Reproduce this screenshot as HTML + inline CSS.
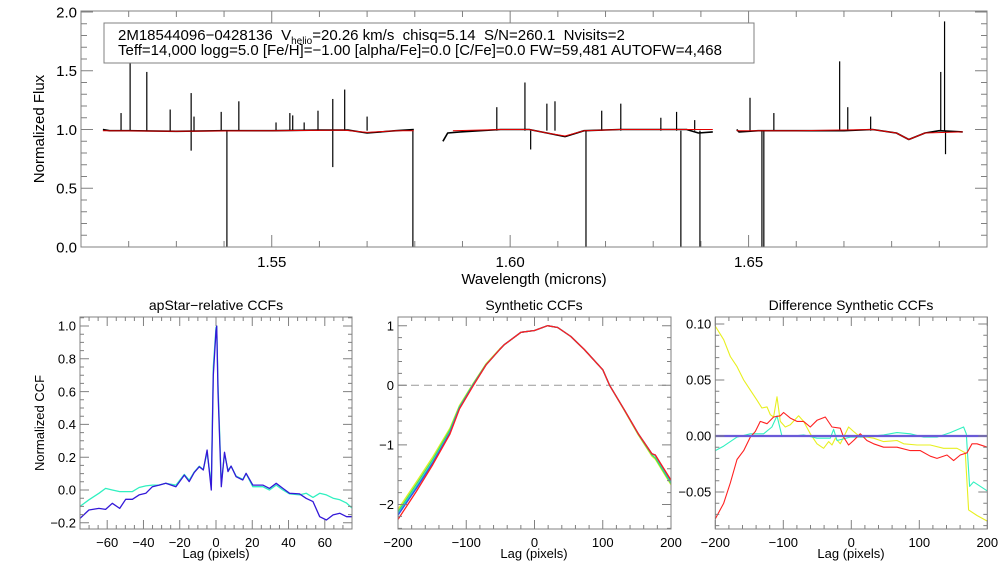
<!DOCTYPE html>
<html><head><meta charset="utf-8"><style>
html,body{margin:0;padding:0;background:#fff}
svg{display:block;font-family:"Liberation Sans",sans-serif}
</style></head><body>
<svg id="fig" width="1008" height="576" viewBox="0 0 1008 576" xmlns="http://www.w3.org/2000/svg">
<rect width="1008" height="576" fill="#fff"/>
</svg>
<script>
// ---- top spectrum data ----
const obsWave = [1.5146,1.5160,1.5200,1.5300,1.5400,1.5500,1.5600,1.5660,1.5700,1.5760,1.5798,null,1.5859,1.5869,1.5895,1.5980,1.6040,1.6077,1.6115,1.6155,1.6230,1.6370,1.6395,1.6425,null,1.6475,1.6480,1.6520,1.6600,1.6700,1.6760,1.6810,1.6836,1.6870,1.6900,1.6949];
const obsFlux = [1.00,0.99,0.99,0.985,0.99,0.99,0.995,0.995,0.97,0.99,1.00,null,0.90,0.97,0.98,1.00,1.00,0.97,0.94,0.99,1.00,1.00,0.97,0.98,null,1.00,0.98,0.99,0.99,0.99,1.00,0.97,0.915,0.97,0.99,0.98];
const modWave = [1.5146,1.5300,1.5500,1.5650,1.5700,1.5760,1.5798,null,1.5880,1.5980,1.6040,1.6077,1.6115,1.6155,1.6230,1.6425,null,1.6475,1.6600,1.6760,1.6810,1.6836,1.6870,1.6949];
const modFlux = [0.99,0.985,0.99,0.995,0.975,0.99,0.99,null,0.99,1.00,1.00,0.97,0.945,0.99,1.00,1.00,null,0.99,0.99,1.00,0.97,0.915,0.97,0.98];
const spikeWave = [1.5184,1.5203,1.5238,1.5287,1.5331,1.5331,1.5337,1.5394,1.5406,1.5431,1.5509,1.5538,1.5544,1.5568,1.5597,1.5628,1.5628,1.5653,1.5700,1.5796,1.5972,1.6031,1.6043,1.6077,1.6094,1.6159,1.6192,1.6232,1.6316,1.6349,1.6358,1.6387,1.6398,1.6503,1.6528,1.6532,1.6553,1.6691,1.6708,1.6756,1.6903,1.6911,1.6913];
const spikeFlux = [1.14,1.75,1.49,1.17,1.31,0.82,1.11,1.15,-0.05,1.24,1.06,1.14,1.12,1.06,1.16,1.26,0.68,1.34,1.11,-0.05,1.19,1.40,0.83,1.22,1.24,-0.05,1.16,1.22,1.10,1.15,-0.05,1.08,-0.05,1.27,-0.05,-0.05,1.14,1.58,1.19,1.11,1.49,1.92,0.79];
const topXTicks = ["1.55","1.60","1.65"];
const topYTicks = ["0.0","0.5","1.0","1.5","2.0"];
// ---- apStar-relative CCF ----
const lagA = [-75,-70.1,-64.6,-60.9,-57.2,-53.1,-49.8,-46.1,-42.4,-38.7,-35.1,-31.4,-27.7,-22.1,-17.5,-14.8,-12,-9.2,-7,-4.9,-2.6,-1.5,0,0.4,1.1,2.9,4.7,6.6,8.3,11.1,14.8,16.6,20.3,25.8,29.5,33.2,36.9,40.6,46.1,49.8,53.5,57.2,60.9,64.6,68.3,72,75];
const blueA = [-0.173,-0.122,-0.112,-0.118,-0.081,-0.112,-0.057,-0.057,-0.03,-0.02,0.02,0.03,0.041,0.02,0.091,0.051,0.106,0.142,0.122,0.244,0.0,0.7,0.97,1.0,0.6,0.02,0.23,0.112,0.146,0.081,0.061,0.102,0.03,0.03,0.01,0.041,0.01,-0.02,-0.024,-0.051,-0.071,-0.163,-0.183,-0.152,-0.142,-0.163,-0.163];
const cyanA = [-0.10,-0.06,-0.02,0.01,0.0,-0.01,-0.01,-0.01,0.015,0.025,0.03,0.03,0.041,0.03,0.095,0.06,0.11,0.145,0.125,0.23,0.03,0.75,0.99,1.0,0.65,0.04,0.22,0.12,0.145,0.085,0.065,0.10,0.02,0.02,0.0,0.03,0.0,-0.024,-0.03,-0.02,-0.045,-0.02,-0.03,-0.05,-0.06,-0.08,-0.11];
const xTicksA = ["-60","-40","-20","0","20","40","60"];
const yTicksA = ["-0.2","0.0","0.2","0.4","0.6","0.8","1.0"];
// ---- synthetic CCF ----
const lagS = [-200,-173,-149,-124,-110,-90,-71,-51,-44.6,-20,0,19,34,53,73,100,110,132,152,172,177,200];
const yellowS = [-2.08,-1.62,-1.20,-0.72,-0.34,0.03,0.36,0.61,0.68,0.89,0.92,1.0,0.97,0.82,0.6,0.26,0.0,-0.43,-0.83,-1.19,-1.24,-1.67];
const greenS = [-2.12,-1.66,-1.24,-0.75,-0.36,0.02,0.35,0.60,0.68,0.89,0.92,1.0,0.97,0.82,0.6,0.26,0.0,-0.42,-0.82,-1.17,-1.22,-1.65];
const cyanS = [-2.15,-1.70,-1.28,-0.79,-0.38,0.0,0.34,0.60,0.68,0.89,0.92,1.0,0.97,0.82,0.6,0.26,0.0,-0.42,-0.81,-1.15,-1.18,-1.62];
const blueS = [-2.18,-1.73,-1.30,-0.80,-0.39,0.0,0.34,0.60,0.68,0.89,0.92,1.0,0.97,0.82,0.6,0.26,0.0,-0.42,-0.81,-1.15,-1.17,-1.60];
const redS = [-2.25,-1.78,-1.33,-0.82,-0.40,-0.01,0.34,0.60,0.68,0.89,0.92,1.0,0.97,0.82,0.6,0.26,0.0,-0.42,-0.81,-1.15,-1.17,-1.59];
const xTicksS = ["-200","-100","0","100","200"];
const yTicksS = ["-2","-1","0","1"];
// ---- difference CCF ----
const lagYD = [-200,-187.7,-177.9,-168.1,-158.3,-148.5,-138.7,-131.4,-124,-119.1,-114.2,-109.3,-104.4,-97.1,-89.7,-77.5,-70.1,-60.3,-50.5,-40.7,-33.3,-28.4,-23.5,-16.2,-3.9,3.4,13.2,23,32.8,47.5,67.2,77,96.6,116.2,135.8,155.4,167.6,172.5,184.8,200];
const yellowD = [0.098,0.086,0.071,0.062,0.05,0.041,0.032,0.025,0.026,0.019,0.017,0.035,0.013,0.008,0.01,0.018,0.013,0.002,-0.007,-0.011,-0.005,-0.008,-0.002,-0.007,0.008,0.004,-0.001,-0.001,-0.002,-0.005,-0.004,-0.007,-0.008,-0.008,-0.011,-0.011,-0.015,-0.066,-0.071,-0.076];
const lagRD = [-200,-187.7,-177.9,-168.1,-158.3,-148.5,-141.2,-133.8,-124,-114.2,-104.4,-99.5,-89.7,-79.9,-70.1,-60.3,-50.5,-38.2,-28.4,-16.2,-11.3,-3.9,3.4,13.2,23,32.8,47.5,67.2,86.8,101.5,116.2,126,140.7,150.5,160.3,170.1,177.5,184.8,200];
const redD = [-0.074,-0.06,-0.042,-0.021,-0.013,-0.001,0.004,0.013,0.011,0.017,0.018,0.021,0.016,0.013,0.013,0.008,0.014,0.017,0.008,0.007,-0.001,-0.008,-0.004,0.002,-0.004,-0.007,-0.01,-0.01,-0.013,-0.013,-0.018,-0.02,-0.017,-0.022,-0.017,-0.015,-0.007,-0.007,-0.01];
const lagCD = [-200,-187.7,-168.1,-148.5,-128.9,-116.7,-109.3,-102,-84.8,-70.1,-50.5,-30.9,-26,-21.1,-1.5,18.1,47.5,67.2,86.8,106.4,126,145.6,165.2,169.1,174,179.9,200];
const cyanD = [-0.013,-0.009,-0.001,0.002,0.002,0.008,0.018,0,0,0.001,-0.002,-0.002,0.006,-0.004,-0.001,-0.001,0.001,0.003,0.002,-0.001,-0.001,0.003,0.008,0.002,-0.045,-0.041,-0.049];
const lagBD = [-200,200];
const blueD = [0,0];
const xTicksD = ["-200","-100","0","100","200"];
const yTicksD = ["-0.05","0.00","0.05","0.10"];

const NS="http://www.w3.org/2000/svg";
const svg=document.getElementById('fig');
function mk(tag,attrs,parent){const e=document.createElementNS(NS,tag);for(const k in attrs)e.setAttribute(k,attrs[k]);(parent||svg).appendChild(e);return e;}
function lin(d0,d1,r0,r1){return v=>r0+(v-d0)*(r1-r0)/(d1-d0);}
function txt(s,x,y,size,anchor,parent,name){const t=mk('text',{x:x,y:y,'font-size':size,'text-anchor':anchor||'middle',fill:'#000'},parent);t.textContent=s;


return t;}
function frame(g,x0,y0,x1,y1,X,Y,xmaj,xmin,ymaj,ymin,xd,yd,xlab,ylab,fs,majL,minL,name){
  const r=mk('rect',{x:x0,y:y0,width:x1-x0,height:y1-y0,fill:'none',stroke:'#808080','stroke-width':1},g);
  
  
  let p='';
  for(let v=xd[0];v<=xd[1]+1e-9;v+=xmin){const x=X(v);const L=Math.abs(v/xmaj-Math.round(v/xmaj))<1e-6?majL:minL;p+=`M${x},${y1}v${-L}M${x},${y0}v${L}`;}
  for(let v=yd[0];v<=yd[1]+1e-9;v+=ymin){const y=Y(v);const L=Math.abs(v/ymaj-Math.round(v/ymaj))<1e-6?majL:minL;p+=`M${x0},${y}h${L}M${x1},${y}h${-L}`;}
  const t=mk('path',{d:p,stroke:'#808080','stroke-width':1,fill:'none'},g);
  
  
  xlab.forEach(s=>txt(s.replace('-','\u2212'),X(parseFloat(s)),y1+fs+5,fs,'middle',g,name+'-x-tick-label'));
  ylab.forEach(s=>txt(s.replace('-','\u2212'),x0-4,Y(parseFloat(s))+fs*0.36,fs,'end',g,name+'-y-tick-label'));
}
function line(g,xs,ys,X,Y,color,w,name){
  let d='',pen=false;
  for(let i=0;i<xs.length;i++){if(xs[i]===null){pen=false;continue;}d+=(pen?'L':'M')+X(xs[i]).toFixed(1)+','+Y(ys[i]).toFixed(1);pen=true;}
  const p=mk('path',{d:d,stroke:color,'stroke-width':w,fill:'none','stroke-linejoin':'round'},g);
  
  
  return p;
}
function clip(id,x0,y0,x1,y1){const c=mk('clipPath',{id:id});mk('rect',{x:x0,y:y0,width:x1-x0,height:y1-y0},c);}

// ---- top panel ----
{
const g=mk('g',{});


const X=lin(1.51,1.70,81,987),Y=lin(0,2.0,247,12);
clip('ct',81,11,987,247);
const d=mk('g',{'clip-path':'url(#ct)'},g);


line(d,obsWave,obsFlux,X,Y,'#000',1.6,'observed-spectrum');
spikeWave.forEach((w,i)=>{const s=mk('line',{x1:X(w),x2:X(w),y1:Y(0.99),y2:Y(spikeFlux[i]),stroke:'#000','stroke-width':1.2},d);

});
line(d,modWave,modFlux,X,Y,'#e00000',1,'model-spectrum');
frame(g,81,11,987,247,X,Y,0.05,0.01,0.5,0.1,[1.51,1.70],[0,2.0],topXTicks,topYTicks,15,12,6,'spectrum');
txt('Wavelength (microns)',534,284,15,'middle',g,'x-axis-title');
const yt=txt('Normalized Flux',0,0,15,'middle',g,'y-axis-title');yt.setAttribute('transform','translate(44,129) rotate(-90)');
const b=mk('rect',{x:104,y:23,width:650,height:40,fill:'#fff',stroke:'#808080','stroke-width':1},g);


const t1=mk('text',{x:118,y:40,'font-size':15,fill:'#000'},g);


t1.innerHTML='2M18544096\u22120428136&#160;&#160;V<tspan font-size="10" dy="4">helio</tspan><tspan dy="-4">=20.26 km/s&#160;&#160;chisq=5.14&#160;&#160;S/N=260.1&#160;&#160;Nvisits=2</tspan>';
const t2=txt('Teff=14,000 logg=5.0 [Fe/H]=\u22121.00 [alpha/Fe]=0.0 [C/Fe]=0.0 FW=59,481 AUTOFW=4,468',118,55,15,'start',g,'info-line-2');
}
// ---- panel A ----
{
const g=mk('g',{});


const X=lin(-75,75,80,352),Y=lin(0,1.0,490,326);
clip('ca',80,317,352,529);
const d=mk('g',{'clip-path':'url(#ca)'},g);
line(d,lagA,cyanA,X,Y,'#30f0c0',1.3,'ccf-cyan');
line(d,lagA,blueA,X,Y,'#3318d8',1.3,'ccf-blue');
frame(g,80,317,352,529,X,Y,20,5,0.2,0.05,[-75,75],[-0.2,1.05],xTicksA,yTicksA,13,9,4,'apstar');
txt('apStar\u2212relative CCFs',216,310,14,'middle',g,'apstar-title');
txt('Lag (pixels)',216,558,13,'middle',g,'apstar-x-title');
const yt=txt('Normalized CCF',0,0,13,'middle',g,'apstar-y-title');yt.setAttribute('transform','translate(44,423) rotate(-90)');
}
// ---- panel S ----
{
const g=mk('g',{});


const X=lin(-200,200,398,671),Y=lin(0,1,385.3,325.7);
const z=mk('line',{x1:398,x2:671,y1:Y(0),y2:Y(0),stroke:'#999','stroke-dasharray':'8,5','stroke-width':1},g);


clip('cs',398,317,671,529);
const d=mk('g',{'clip-path':'url(#cs)'},g);
line(d,lagS,yellowS,X,Y,'#e0f020',1.3,'ccf-yellow');
line(d,lagS,greenS,X,Y,'#40e060',1.3,'ccf-green');
line(d,lagS,cyanS,X,Y,'#20d0d0',1.3,'ccf-cyan');
line(d,lagS,blueS,X,Y,'#3050f0',1.3,'ccf-blue');
line(d,lagS,redS,X,Y,'#ff2020',1.3,'ccf-red');
frame(g,398,317,671,529,X,Y,100,20,1,0.2,[-200,200],[-2.4,1.1],xTicksS,yTicksS,13,9,4,'synthetic');
txt('Synthetic CCFs',534,310,14,'middle',g,'synthetic-title');
txt('Lag (pixels)',534,558,13,'middle',g,'synthetic-x-title');
}
// ---- panel D ----
{
const g=mk('g',{});


const X=lin(-200,200,715.3,987.3),Y=lin(0,0.1,436,324);
clip('cd',715,317,988,529);
const d=mk('g',{'clip-path':'url(#cd)'},g);
line(d,lagYD,yellowD,X,Y,'#e8f020',1.1,'diff-yellow');
line(d,lagCD,cyanD,X,Y,'#30f0c0',1.1,'diff-cyan');
line(d,lagRD,redD,X,Y,'#ff2020',1.1,'diff-red');
line(d,lagBD,blueD,X,Y,'#6a5ad8',2.2,'diff-blue');
frame(g,715.3,317,987.3,529,X,Y,100,20,0.05,0.01,[-200,200],[-0.08,0.1],xTicksD,yTicksD,13,9,4,'difference');
txt('Difference Synthetic CCFs',851,310,14,'middle',g,'difference-title');
txt('Lag (pixels)',851,558,13,'middle',g,'difference-x-title');
}
</script>
</body></html>
